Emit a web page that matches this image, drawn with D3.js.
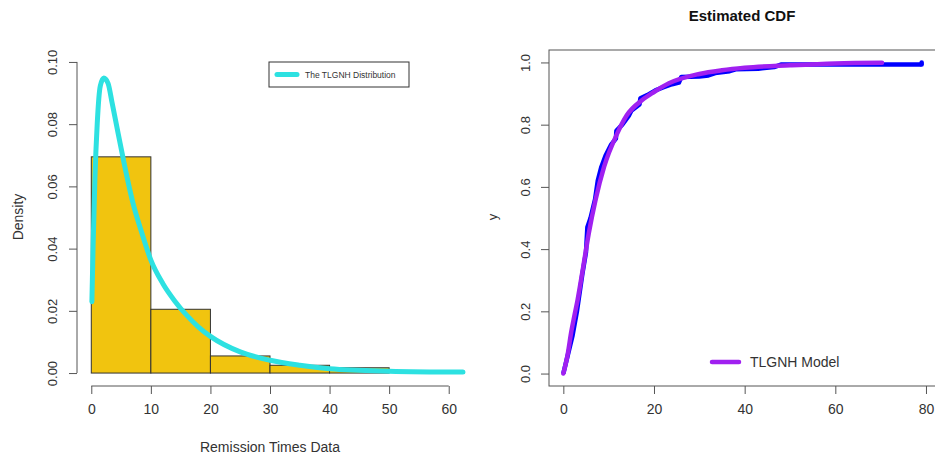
<!DOCTYPE html>
<html>
<head>
<meta charset="utf-8">
<script src="https://cdn.jsdelivr.net/npm/d3@7"></script>
<style>
  body { margin: 0; background: #fff; }
  text { font-family: "Liberation Sans", Arial, sans-serif; fill: #333; }
</style>
</head>
<body>
<div id="chart"></div>
<script>
// histogram of remission times (density per bin)
var binEdges = [0, 10, 20, 30, 40, 50, 60];
var binDensity = [0.0695, 0.0205, 0.0055, 0.0025, 0.0017, 0];

// fitted TLGNH density
var pdfX = [0.1, 0.3, 0.6, 1.0, 1.5, 2.1, 2.8, 3.5, 4.5, 5.5, 7, 8.5, 10, 12, 14, 16, 18, 20, 25, 30, 35, 40, 50, 62.4];
var pdfY = [0.0229, 0.0406, 0.0621, 0.0803, 0.0922, 0.0948, 0.0932, 0.0868, 0.0771, 0.0675, 0.0546, 0.0449, 0.0363, 0.0288, 0.0232, 0.0186, 0.0148, 0.0118, 0.0068, 0.0041, 0.0025, 0.0014, 0.0006, 0.0003];

// empirical cdf (blue)
var ecdfX = [0, 1, 2, 3, 3.5, 4.2, 5, 5.3, 6, 7, 7.6, 8.4, 9.3, 10.5, 11.6, 11.7, 13, 14.5, 15, 16.8, 17, 18.5, 20.3, 22, 24, 25.5, 26, 30, 32, 33.5, 36.7, 38, 43, 46.5, 48, 79];
var ecdfY = [0, 0.06, 0.12, 0.2, 0.25, 0.32, 0.39, 0.47, 0.5, 0.56, 0.62, 0.665, 0.7, 0.735, 0.755, 0.78, 0.8, 0.83, 0.845, 0.865, 0.885, 0.895, 0.91, 0.92, 0.93, 0.935, 0.953, 0.955, 0.958, 0.966, 0.972, 0.978, 0.98, 0.985, 0.993, 0.993];
var ecdfEnd = [79.05, 1.0];

// fitted TLGNH cdf (purple)
var cdfX = [0, 1, 1.7, 2.5, 3.15, 4.4, 5.6, 7.1, 9.0, 11.9, 14, 17.4, 20, 23.3, 30, 35, 40, 50, 60, 70.3];
var cdfY = [0, 0.065, 0.13, 0.19, 0.237, 0.344, 0.45, 0.558, 0.665, 0.772, 0.83, 0.879, 0.905, 0.933, 0.963, 0.975, 0.983, 0.991, 0.997, 0.999];

var leftTicksX = [0, 10, 20, 30, 40, 50, 60],
    leftTicksY = [0, 0.02, 0.04, 0.06, 0.08, 0.10],
    rightTicksX = [0, 20, 40, 60, 80],
    rightTicksY = [0, 0.2, 0.4, 0.6, 0.8, 1.0];

var width = 935, height = 460;
var axisColor = "#555";

var svg = d3.select("#chart").append("svg")
    .attr("width", width)
    .attr("height", height);

// ---------- left panel: histogram ----------
var xL = d3.scaleLinear().domain([-2.4, 62.4]).range([77, 463]),
    yL = d3.scaleLinear().domain([-0.004, 0.104]).range([385.5, 49.5]);

var bins = binDensity.map(function(d, i) {
  return {x0: binEdges[i], x1: binEdges[i + 1], d: d};
});

svg.append("g").selectAll("rect")
    .data(bins)
  .enter().append("rect")
    .attr("x", function(d) { return xL(d.x0); })
    .attr("y", function(d) { return yL(d.d); })
    .attr("width", function(d) { return xL(d.x1) - xL(d.x0); })
    .attr("height", function(d) { return yL(0) - yL(d.d); })
    .style("fill", "#f1c40f")
    .style("stroke", "#333")
    .style("stroke-width", 1);

var pdfLine = d3.line()
    .x(function(d) { return xL(d[0]); })
    .y(function(d) { return yL(d[1]); })
    .curve(d3.curveMonotoneX);

svg.append("path")
    .datum(d3.zip(pdfX, pdfY))
    .attr("d", pdfLine)
    .style("fill", "none")
    .style("stroke", "#2de1e1")
    .style("stroke-width", 5)
    .style("stroke-linecap", "round")
    .style("stroke-linejoin", "round");

// axes (R style: line only between first and last tick)
var axL = svg.append("g").attr("transform", "translate(0,386)")
    .call(d3.axisBottom(xL).tickValues(leftTicksX).tickSize(8).tickPadding(10).tickSizeOuter(0));
axL.select(".domain").remove();
axL.append("line").attr("x1", xL(0)).attr("x2", xL(60)).attr("stroke", axisColor);
axL.selectAll("line").attr("stroke", axisColor);
axL.selectAll("text").style("font-size", "14px").style("fill", "#333").style("font-family", "Liberation Sans, Arial");

var ayL = svg.append("g").attr("transform", "translate(77,0)")
    .call(d3.axisLeft(yL).tickValues(leftTicksY).tickFormat(d3.format(".2f")).tickSize(8).tickSizeOuter(0));
ayL.select(".domain").remove();
ayL.append("line").attr("y1", yL(0)).attr("y2", yL(0.1)).attr("stroke", axisColor);
ayL.selectAll("line").attr("stroke", axisColor);
ayL.selectAll("text")
    .attr("x", 0).attr("dy", 0)
    .attr("transform", "translate(-20,0) rotate(-90)")
    .attr("text-anchor", "middle")
    .style("font-size", "13px").style("fill", "#333").style("font-family", "Liberation Sans, Arial");

svg.append("text")
    .attr("x", 270).attr("y", 452)
    .attr("text-anchor", "middle")
    .style("font-size", "14px")
    .text("Remission Times Data");

svg.append("text")
    .attr("transform", "translate(23,217) rotate(-90)")
    .attr("text-anchor", "middle")
    .style("font-size", "14px")
    .text("Density");

// legend
var legL = svg.append("g");
legL.append("rect")
    .attr("x", 269).attr("y", 62).attr("width", 140).attr("height", 25)
    .style("fill", "#fff").style("stroke", "#333").style("stroke-width", 1);
legL.append("line")
    .attr("x1", 277).attr("x2", 297).attr("y1", 74.5).attr("y2", 74.5)
    .style("stroke", "#2de1e1").style("stroke-width", 5).style("stroke-linecap", "round");
legL.append("text")
    .attr("x", 305).attr("y", 77.5)
    .style("font-size", "8.5px")
    .text("The TLGNH Distribution");

// ---------- right panel: estimated cdf ----------
var xR = d3.scaleLinear().domain([-3.162, 82.21]).range([549, 936]),
    yR = d3.scaleLinear().domain([-0.04, 1.04]).range([386, 50]);

svg.append("text")
    .attr("x", 742).attr("y", 21)
    .attr("text-anchor", "middle")
    .style("font-size", "15px")
    .style("font-weight", "bold")
    .style("fill", "#111")
    .text("Estimated CDF");

var ecdfLine = d3.line()
    .x(function(d) { return xR(d[0]); })
    .y(function(d) { return yR(d[1]); });

svg.append("path")
    .datum(d3.zip(ecdfX, ecdfY))
    .attr("d", ecdfLine)
    .style("fill", "none")
    .style("stroke", "#0000ff")
    .style("stroke-width", 4.5)
    .style("stroke-linejoin", "round");

svg.append("line")
    .attr("x1", xR(ecdfEnd[0])).attr("x2", xR(ecdfEnd[0]))
    .attr("y1", yR(ecdfY[ecdfY.length - 1])).attr("y2", yR(ecdfEnd[1]))
    .style("stroke", "#0000ff").style("stroke-width", 4.5).style("stroke-linecap", "round");

var cdfLine = d3.line()
    .x(function(d) { return xR(d[0]); })
    .y(function(d) { return yR(d[1]); })
    .curve(d3.curveMonotoneX);

svg.append("path")
    .datum(d3.zip(cdfX, cdfY))
    .attr("d", cdfLine)
    .style("fill", "none")
    .style("stroke", "#a020f0")
    .style("stroke-width", 4.5)
    .style("stroke-linecap", "round")
    .style("stroke-linejoin", "round");

svg.append("rect")
    .attr("x", 549).attr("y", 50).attr("width", 387).attr("height", 336)
    .style("fill", "none").style("stroke", axisColor).style("stroke-width", 1);

var axR = svg.append("g").attr("transform", "translate(0,386)")
    .call(d3.axisBottom(xR).tickValues(rightTicksX).tickSize(8).tickPadding(10).tickSizeOuter(0));
axR.select(".domain").remove();
axR.selectAll("line").attr("stroke", axisColor);
axR.selectAll("text").style("font-size", "14px").style("fill", "#333").style("font-family", "Liberation Sans, Arial");

var ayR = svg.append("g").attr("transform", "translate(549,0)")
    .call(d3.axisLeft(yR).tickValues(rightTicksY).tickFormat(d3.format(".1f")).tickSize(8).tickSizeOuter(0));
ayR.select(".domain").remove();
ayR.selectAll("line").attr("stroke", axisColor);
ayR.selectAll("text")
    .attr("x", 0).attr("dy", 0)
    .attr("transform", "translate(-19,0) rotate(-90)")
    .attr("text-anchor", "middle")
    .style("font-size", "13px").style("fill", "#333").style("font-family", "Liberation Sans, Arial");

svg.append("text")
    .attr("transform", "translate(497,217) rotate(-90)")
    .attr("text-anchor", "middle")
    .style("font-size", "13px")
    .text("y");

var legR = svg.append("g");
legR.append("line")
    .attr("x1", 712).attr("x2", 739).attr("y1", 362).attr("y2", 362)
    .style("stroke", "#a020f0").style("stroke-width", 4.5).style("stroke-linecap", "round");
legR.append("text")
    .attr("x", 750).attr("y", 367)
    .style("font-size", "14px")
    .text("TLGNH Model");
</script>
</body>
</html>
